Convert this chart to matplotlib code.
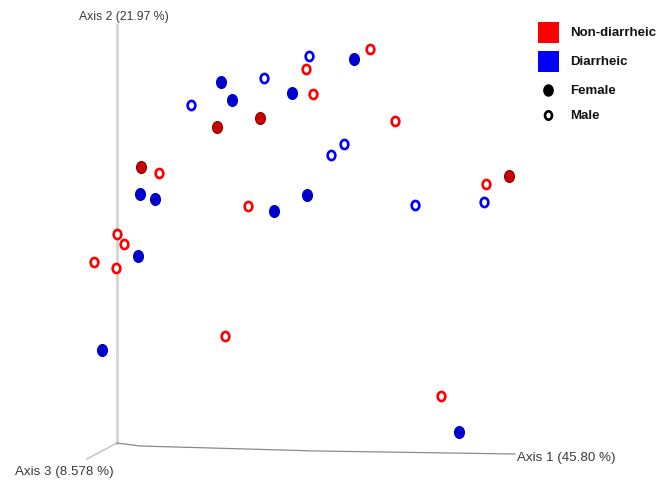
"""PCoA ordination plot (Emperor-style 3D projection), diarrheic vs non-diarrheic."""

import matplotlib
matplotlib.use("Agg")
import matplotlib.pyplot as plt
from matplotlib.patches import Rectangle
from matplotlib.path import Path
from matplotlib.transforms import Affine2D

plt.rcParams["font.family"] = ["Liberation Sans", "DejaVu Sans"]

# projected sample positions (screen projection of PC1/PC2/PC3, origin at axis corner)
nd_female_x = [100, 143, 24, 392]
nd_female_y = [316, 325, 276, 267]

nd_male_x = [253, 189, 196, 278, 42, 131, 0, 7, -23, -1, 369, 108, 324]
nd_male_y = [394, 374, 349, 322, 270, 237, 209, 199, 181, 175, 259, 107, 47]

d_female_x = [237, 104, 115, 175, 23, 38, 157, 190, 21, -15, 342]
d_female_y = [384, 361, 343, 350, 249, 244, 232, 248, 187, 93, 11]

d_male_x = [192, 147, 74, 227, 214, 298, 367]
d_male_y = [387, 365, 338, 299, 288, 238, 241]

# axis segments of the projected 3D frame
axis1_x, axis1_y = [0, 23, 200, 398], [0, -3, -8, -11]
axis2_x, axis2_y = [0, 0], [0, 418]
axis3_x, axis3_y = [0, -30], [0, -16]

axis_labels = ["Axis 1 (45.80 %)", "Axis 2 (21.97 %)", "Axis 3 (8.578 %)"]
groups = ["Non-diarrheic", "Diarrheic"]
sexes = ["Female", "Male"]

RED = "#ff0000"
RED_DARK = "#c80000"
BLUE = "#0000ff"
BLUE_DARK = "#0000cc"

# slightly tall ellipse marker
egg = Path.unit_circle().transformed(Affine2D().scale(1.0, 1.2))

fig = plt.figure(figsize=(6.67, 4.81), dpi=100)
ax = fig.add_axes([0, 0, 1, 1])
ax.set_xlim(-117, 550)
ax.set_ylim(-37, 444)
ax.axis("off")

ax.plot(axis2_x, axis2_y, color="#d4d4d4", lw=2.0, zorder=1)
ax.plot(axis3_x, axis3_y, color="#c8c8c8", lw=1.2, zorder=1)
ax.plot(axis1_x, axis1_y, color="#8a8a8a", lw=0.9, zorder=1)

ax.text(axis2_x[1] + 7, axis2_y[1] + 9, axis_labels[1], fontsize=8.8, color="#3a3a3a",
        ha="center", va="center")
ax.text(axis1_x[-1] + 2, axis1_y[-1] - 3, axis_labels[0], fontsize=9.6, color="#3a3a3a",
        ha="left", va="center")
ax.text(-102, -28, axis_labels[2], fontsize=9.6, color="#3a3a3a", ha="left", va="center")

ax.plot(nd_female_x, nd_female_y, ls="none", marker=egg, ms=8.6, mfc=RED_DARK,
        mec="#900000", mew=0.8, zorder=3)
ax.plot(d_female_x, d_female_y, ls="none", marker=egg, ms=8.6, mfc=BLUE_DARK,
        mec=BLUE_DARK, mew=0.8, zorder=3)
ax.plot(nd_male_x, nd_male_y, ls="none", marker=egg, ms=6.6, mfc="white",
        mec=RED, mew=1.9, zorder=3)
ax.plot(d_male_x, d_male_y, ls="none", marker=egg, ms=6.6, mfc="white",
        mec=BLUE, mew=1.9, zorder=3)

# legend, drawn in screen pixels
lg = fig.add_axes([0, 0, 1, 1])
lg.set_xlim(0, 667)
lg.set_ylim(481, 0)
lg.axis("off")

row_y = [33, 62, 91, 116]
for y, col in zip(row_y[:2], [RED, BLUE]):
    lg.add_patch(Rectangle((538, y - 10.5), 21, 21, facecolor=col, edgecolor="none"))
lg.plot(548, row_y[2], ls="none", marker=egg, ms=8.0, mfc="black", mec="black")
lg.plot(548, row_y[3], ls="none", marker=egg, ms=6.0, mfc="white", mec="black", mew=1.9)
for y, label in zip(row_y, groups + sexes):
    lg.text(570, y, label, fontsize=9.5, fontweight="bold", color="#111111",
            ha="left", va="center")

fig.savefig("out.png", dpi=100)
plt.close(fig)
